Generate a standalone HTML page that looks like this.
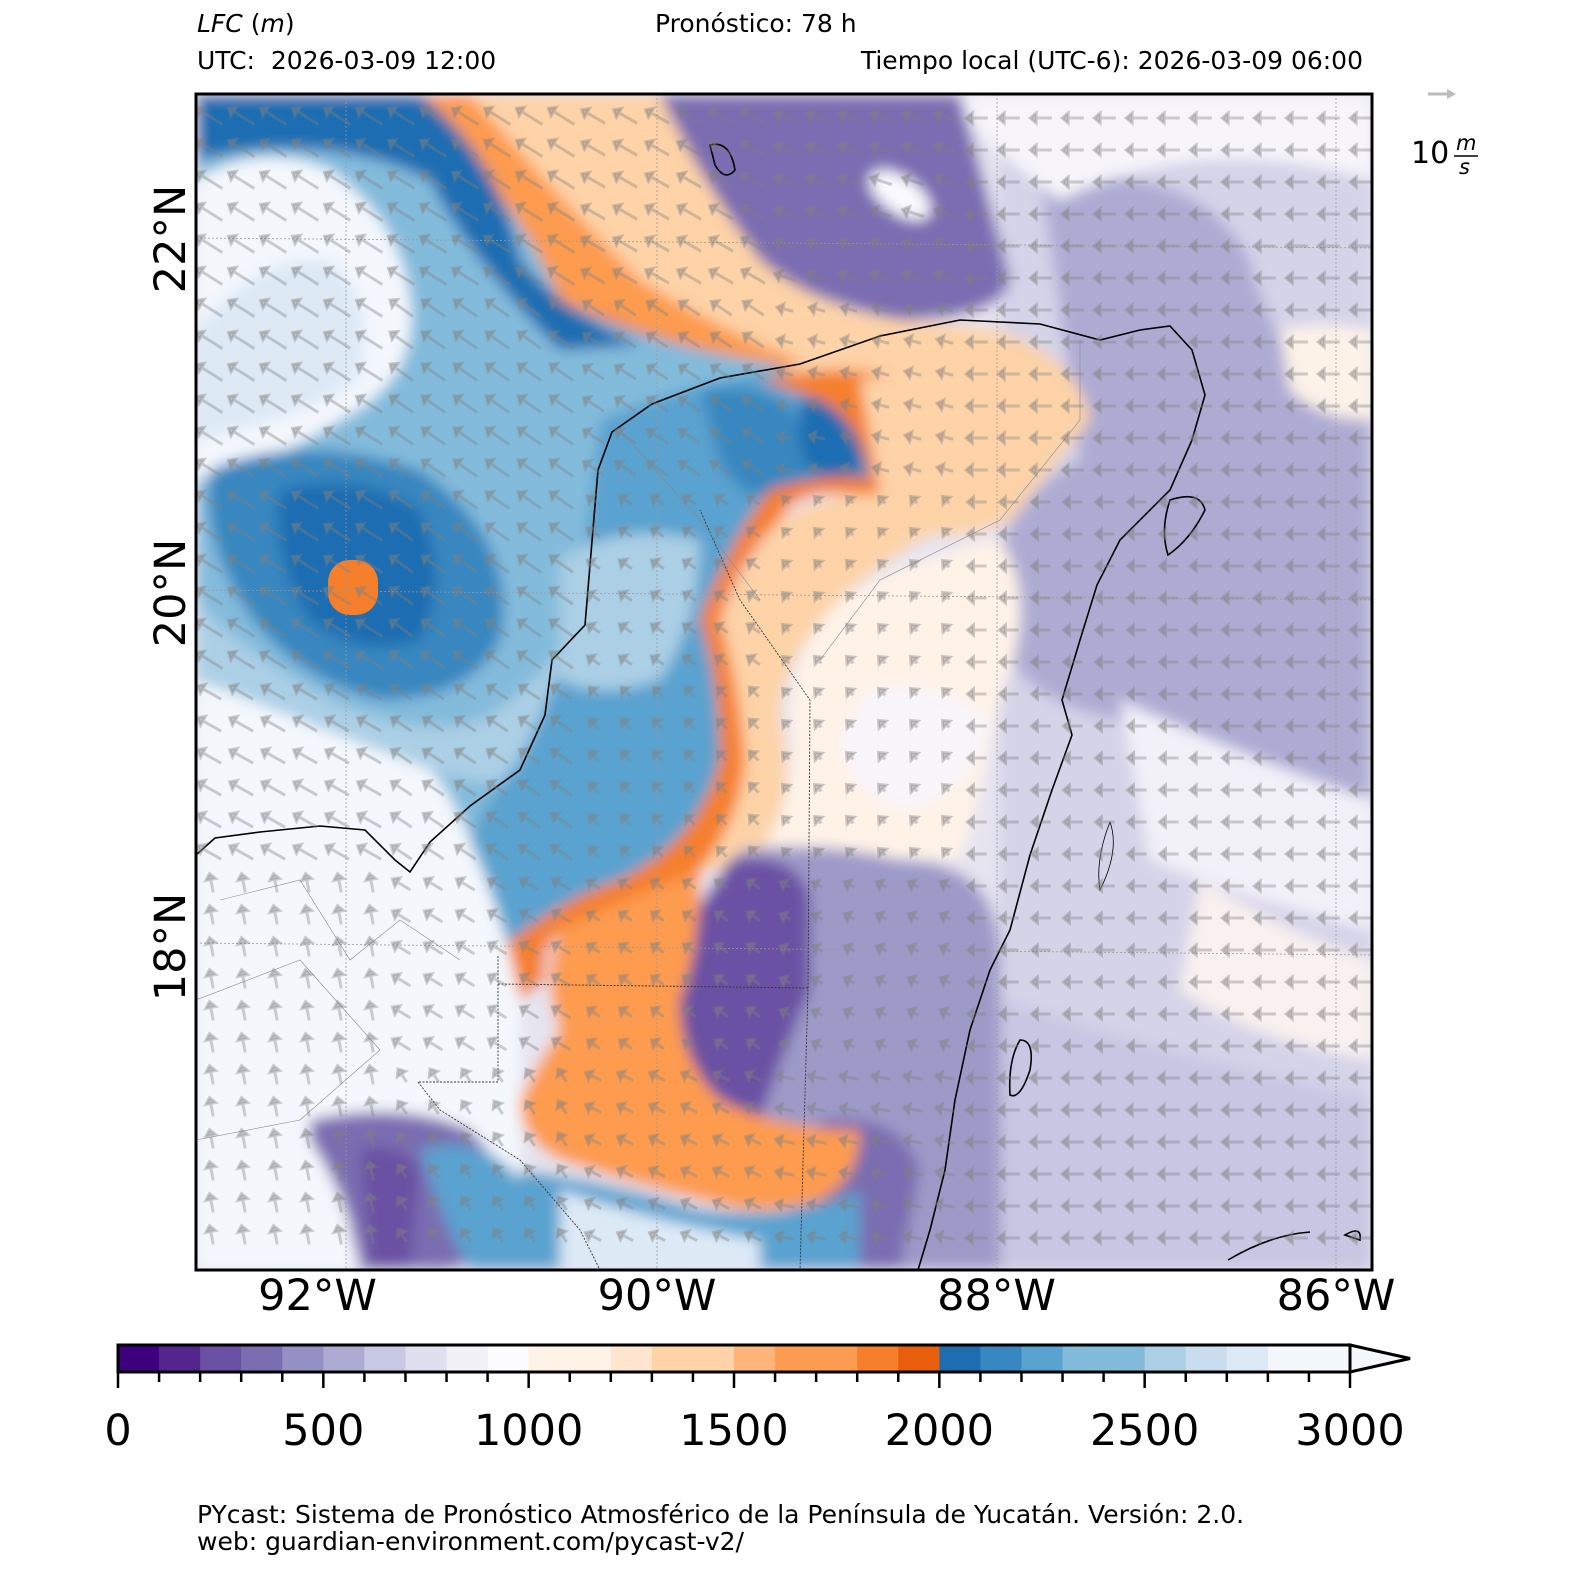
<!DOCTYPE html>
<html><head><meta charset="utf-8">
<style>
html,body{margin:0;padding:0;background:#fff;}
body{width:1574px;height:1574px;position:relative;font-family:"Liberation Sans","DejaVu Sans",sans-serif;overflow:hidden;}
.t{position:absolute;font-family:"DejaVu Sans","Liberation Sans",sans-serif;color:#000;white-space:nowrap;}
</style></head>
<body>
<div class="t" style="left:197px;top:9px;font-size:25px;font-style:italic">LFC<span style="font-style:normal"> (</span>m<span style="font-style:normal">)</span></div>
<div class="t" style="left:655px;top:9px;font-size:25px">Pronóstico: 78 h</div>
<div class="t" style="left:197px;top:46px;font-size:25px">UTC:&nbsp; 2026-03-09 12:00</div>
<div class="t" style="right:211px;top:46px;font-size:25px">Tiempo local (UTC-6): 2026-03-09 06:00</div>
<div class="t" style="left:197px;top:1500px;font-size:25px">PYcast: Sistema de Pronóstico Atmosférico de la Península de Yucatán. Versión: 2.0.</div>
<div class="t" style="left:197px;top:1527px;font-size:25px">web: guardian-environment.com/pycast-v2/</div>

<svg id="chart" width="1574" height="1574" style="position:absolute;left:0;top:0">
<defs>
<clipPath id="mc"><rect x="196" y="94" width="1176" height="1176"/></clipPath>
<filter id="bl" x="-20%" y="-20%" width="140%" height="140%"><feGaussianBlur stdDeviation="7"/></filter>
</defs>
<g clip-path="url(#mc)">
<g filter="url(#bl)">
<rect x="150" y="50" width="1300" height="1300" fill="#e6e4f0"/>
<path d="M1000,94 L1372,94 L1372,1270 L1000,1270 Z" fill="#d4d3e8"/>
<path d="M1040,180 Q1200,160 1250,260 Q1280,380 1372,420 L1372,800 Q1200,780 1120,720 Q1000,700 990,600 Q1000,500 1080,460 Q1060,300 1040,180Z" fill="#aeabd3"/>
<path d="M950,94 L1372,94 L1372,180 Q1200,130 1060,200 Q990,150 950,94Z" fill="#f7f5fa"/>
<path d="M1120,700 Q1250,760 1372,800 L1372,930 Q1250,900 1150,860 Z" fill="#f3f1f8"/>
<path d="M1200,880 Q1300,940 1372,960 L1372,1060 Q1250,1040 1180,990 Z" fill="#f9f1ef"/>
<path d="M1000,1000 Q1150,1050 1372,1100 L1372,1270 L960,1270 Z" fill="#c8c6e2"/>
<path d="M1280,330 Q1320,320 1372,330 L1372,420 Q1320,420 1290,390 Z" fill="#fdf2e8"/>
<path d="M650,94 L960,94 Q990,200 1010,280 Q1000,320 900,320 Q800,300 760,260 Q720,200 650,130 Z" fill="#7a6db1"/>
<ellipse cx="900" cy="195" rx="35" ry="18" fill="#fbfaff" transform="rotate(35 900 195)"/>
<path d="M360,94 L660,94 Q700,180 760,260 Q820,310 900,320 L1000,330 Q1080,360 1090,420 L1010,520 Q920,560 880,500 Q800,420 780,370 Q660,340 560,300 Q500,200 360,94Z" fill="#fdd3a7"/>
<path d="M360,94 L470,94 Q560,200 640,280 Q720,330 800,360 L770,380 Q650,350 560,310 Q520,220 420,130 Z" fill="#fd9b50"/>
<path d="M540,300 Q600,310 640,330 Q720,355 780,365 Q680,370 580,340 Z" fill="#e95e0d"/>
<path d="M196,94 L380,94 Q500,160 560,300 Q650,345 780,365 Q760,420 700,470 L640,600 L560,830 L196,830 Z" fill="#83bbdb"/>
<path d="M196,94 L420,94 Q500,160 520,260 Q560,310 640,345 L560,350 Q470,260 430,180 Q330,130 196,160Z" fill="#1f6db1"/>
<path d="M196,180 Q260,140 330,170 Q400,220 410,300 Q420,380 340,420 Q260,470 196,480 Z" fill="#f4f8fd"/>
<path d="M196,330 Q260,250 330,260 Q380,300 360,380 Q300,420 196,440Z" fill="#ddeaf6"/>
<path d="M210,470 Q300,430 420,470 Q520,540 500,640 Q470,700 380,700 Q290,680 240,600 Q200,530 210,470Z" fill="#3787c0"/>
<path d="M280,490 Q360,470 420,510 Q450,580 420,640 Q360,660 310,620 Q270,560 280,490Z" fill="#1f6db1"/>
<path d="M196,640 Q260,680 360,720 Q440,760 460,820 L196,830 Z" fill="#f4f8fd"/>
<path d="M196,600 Q240,650 330,700 Q420,740 480,720 Q520,700 560,650 L560,780 Q480,790 430,770 Q300,720 196,680 Z" fill="#abcfe5"/>
<path d="M600,420 Q700,380 780,370 Q840,380 870,430 L870,490 Q800,470 780,520 Q740,560 720,620 Q740,700 740,760 Q720,820 700,860 Q650,900 600,900 Q540,930 520,1000 L520,1080 L480,1080 Q460,1000 450,900 Q460,830 520,760 Q560,680 580,600 Q590,500 600,420Z" fill="#5aa2cf"/>
<path d="M560,560 Q620,520 700,540 Q700,620 660,680 Q600,700 560,680Z" fill="#abcfe5"/>
<path d="M700,390 Q770,380 800,420 Q850,400 870,450 L870,490 Q810,480 780,500 Q740,500 720,460Z" fill="#3787c0"/>
<path d="M800,400 Q840,390 860,420 Q870,470 840,485 Q800,470 800,440Z" fill="#1f6db1"/>
<path d="M760,380 Q850,360 900,380 L880,500 Q800,480 780,520 Q740,560 720,620 Q750,680 750,760 Q740,830 700,870 Q650,900 610,910 L560,930 Q540,950 545,980 L520,1000 L500,950 Q560,900 620,880 Q700,840 720,760 Q720,680 700,620 Q730,540 770,490 Q840,470 870,480 Q860,420 820,400Z" fill="#f57f2b"/>
<path d="M860,380 Q950,370 1000,340 Q1080,370 1080,430 Q1040,480 960,520 Q880,560 840,600 Q780,660 780,720 Q800,800 760,850 Q700,880 700,870 Q740,820 745,760 Q740,690 720,620 Q745,560 780,520 Q830,490 880,495 Z" fill="#fdd3a7"/>
<path d="M840,600 Q900,560 1000,540 Q1040,600 1000,700 Q980,800 960,860 Q900,860 840,850 Q780,860 760,850 Q800,800 790,720 Q790,650 840,600Z" fill="#fff3e8"/>
<path d="M870,690 Q940,680 990,720 Q970,800 900,810 Q850,790 840,740Z" fill="#f8f5fb"/>
<path d="M740,850 Q820,840 900,860 Q1000,860 1000,960 L1000,1270 L800,1270 L780,1150 Q700,1100 690,1000 Q700,900 740,850Z" fill="#9e9ac8"/>
<path d="M730,860 Q800,850 810,900 L810,990 Q780,1060 760,1120 Q700,1100 680,1040 Q660,980 690,920 Z" fill="#6a51a3"/>
<path d="M820,1120 Q900,1110 920,1170 L900,1270 L820,1270 Z" fill="#7a6db1"/>
<path d="M560,930 Q620,900 700,870 Q700,950 680,1000 Q680,1060 720,1100 Q780,1130 860,1130 Q860,1180 820,1200 Q760,1220 700,1200 Q620,1180 560,1160 Q520,1140 520,1100 Q540,1060 560,1030 Q540,980 560,930Z" fill="#fd9b50"/>
<path d="M520,1170 Q600,1180 700,1210 Q800,1220 860,1190 L860,1270 L520,1270Z" fill="#5aa2cf"/>
<path d="M560,1190 Q650,1220 760,1240 L760,1270 L560,1270Z" fill="#ddeaf6"/>
<path d="M196,830 L460,820 Q500,900 520,1000 L520,1180 L196,1270 Z" fill="#f4f8fd"/>
<path d="M196,1100 L196,1270 L360,1270 L300,1110Z" fill="#f4f8fd"/>
<path d="M310,1120 Q400,1100 470,1130 Q520,1180 500,1240 Q470,1270 440,1270 L360,1270 Q350,1200 310,1140Z" fill="#7a6db1"/>
<path d="M360,1150 Q400,1140 420,1170 L410,1270 L370,1270 Z" fill="#6a51a3"/>
<path d="M420,1150 Q480,1130 520,1180 L520,1270 L470,1270 Q440,1220 420,1150Z" fill="#5aa2cf"/>
</g>
<rect x="328" y="560" width="50" height="55" rx="22" fill="#f57f2b"/>
<g stroke="#999" stroke-width="0.8" stroke-dasharray="2,2" fill="none">
<line x1="346" y1="94" x2="346" y2="1270"/><line x1="657" y1="94" x2="657" y2="1270"/><line x1="997" y1="94" x2="997" y2="1270"/><line x1="1336" y1="94" x2="1336" y2="1270"/>
<line x1="196" y1="238" x2="1372" y2="248"/><line x1="196" y1="590" x2="1372" y2="600"/><line x1="196" y1="943" x2="1372" y2="955"/>
</g>
<g stroke="#333" stroke-width="0.9" fill="none" stroke-dasharray="2,1.5">
<path d="M498,956 L498,1082 L418,1082"/><path d="M498,984 L808,988 L800,1270"/><path d="M808,988 L810,700 L740,600 L700,510"/><path d="M418,1082 L440,1110 L520,1160 L580,1230 L600,1270"/>
</g>
<g stroke="#888" stroke-width="0.6" fill="none">
<path d="M620,430 L700,520 L760,600"/><path d="M1080,340 L1080,420 L1000,520 L880,580 L820,660"/><path d="M220,900 L300,880 L350,960 L400,920 L460,960"/><path d="M196,1000 L300,960 L380,1050 L300,1120 L196,1140"/>
</g>
<g stroke="#000" stroke-width="1.6" fill="none">
<path d="M196,855 L215,838 L260,832 L320,826 L365,830 L395,860 L410,872 L430,842 L470,806 L520,770 L545,715 L552,660 L585,625 L590,565 L598,470 L612,432 L652,404 L720,378 L800,364 L880,336 L960,320 L1040,324 L1100,340 L1140,330 L1170,326 L1192,350 L1205,395 L1192,440 L1170,490 L1120,540 L1097,585 L1080,640 L1062,700 L1072,735 L1052,790 L1030,855 L1010,930 L990,970 L970,1030 L955,1100 L945,1170 L930,1230 L918,1270"/>
<path d="M1170,500 Q1200,490 1205,510 Q1190,540 1168,555 Q1160,530 1170,500Z"/>
<path d="M1020,1040 Q1035,1040 1030,1070 Q1020,1100 1010,1095 Q1008,1060 1020,1040Z"/>
<path d="M710,145 Q730,140 735,170 Q725,182 715,165Z"/>
<path d="M1228,1260 Q1270,1235 1310,1232"/><path d="M1345,1235 Q1362,1225 1360,1240 Z"/>
<path d="M1110,822 Q1120,850 1100,890 Q1095,860 1110,822Z" stroke-width="0.8"/>
</g>
<g id="arrows"></g>
</g>
<rect x="196" y="94" width="1176" height="1176" fill="none" stroke="#000" stroke-width="3"/>
<g>
<line x1="1428" y1="94" x2="1450" y2="94" stroke="#bbb" stroke-width="3"/>
<polygon points="1456,94 1447,89 1447,99" fill="#bbb"/>
<text x="1411" y="163" font-family="DejaVu Sans,Liberation Sans,sans-serif" font-size="30">10</text>
<text x="1456" y="150" font-family="DejaVu Sans,Liberation Sans,sans-serif" font-size="21" font-style="italic">m</text>
<line x1="1454" y1="156" x2="1478" y2="156" stroke="#000" stroke-width="1.5"/>
<text x="1459" y="174" font-family="DejaVu Sans,Liberation Sans,sans-serif" font-size="21" font-style="italic">s</text>
</g>
<g id="axes" font-family="DejaVu Sans,Liberation Sans,sans-serif" font-size="43"></g>
<g id="cbar"></g>
</svg>
<script>
var lonLabels=['92°W','90°W','88°W','86°W'];
var lonValues=[-92,-90,-88,-86];
var latLabels=['22°N','20°N','18°N'];
var latValues=[22,20,18];
var cbTicks=[0,500,1000,1500,2000,2500,3000];
var cbColors=['#3f007d','#54278f','#6a51a3','#7b6eb0','#9590c4','#adabd2','#c8c8e2','#e0dfee','#f1f0f6','#fcfbfd','#fff3e8','#fff3e8','#fee6ce','#fdd3a7','#fdd3a7','#fdb57c','#fd9b50','#fd9b50','#f57f2b','#e95e0d','#1f6db1','#3787c0','#5aa2cf','#83bbdb','#83bbdb','#abcfe5','#c9ddef','#ddeaf6','#f4f8fd','#f4f8fd'];
var windU=[[-8,-8,-7,-6,-6,-6],[-8,-7,-6,-4,-6,-6],[-8,-7,-3,-1,-5,-6],[-7,-6,-2,-1,-5,-6],[-1,-5,-3,-2,-5,-6],[-1,-2,-4,-5,-6,-6]];
var windV=[[5,5,4,2,0,0],[5,5,4,1,0,0],[5,5,2,1,0,0],[4,4,2,1,0,0],[5,3,2,1,0,0],[5,3,2,1,0,0]];
var NS='http://www.w3.org/2000/svg';
function xLon(l){return 657+(l+90)*169.75;}
function yLat(a){return 593-(a-20)*177;}
var cbX0=118,cbX1=1350,cbY=1345,cbH=27;
function xCb(v){return cbX0+(v/3000)*(cbX1-cbX0);}
var ax=document.getElementById('axes');
lonLabels.forEach(function(s,i){var t=document.createElementNS(NS,'text');


var x=xLon(lonValues[i]);t.setAttribute('x',x);t.setAttribute('y',1310);t.setAttribute('text-anchor','middle');t.textContent=s;ax.appendChild(t);});
latLabels.forEach(function(s,i){var t=document.createElementNS(NS,'text');


var y=yLat(latValues[i]);t.setAttribute('transform','translate(185,'+y+') rotate(-90)');t.setAttribute('text-anchor','middle');t.textContent=s;ax.appendChild(t);});
var cb=document.getElementById('cbar');
cbColors.forEach(function(c,i){var r=document.createElementNS(NS,'rect');


var x0=xCb(i*100),x1=xCb((i+1)*100);r.setAttribute('x',x0);r.setAttribute('y',cbY);r.setAttribute('width',x1-x0+0.5);r.setAttribute('height',cbH);r.setAttribute('fill',c);cb.appendChild(r);});
var tri=document.createElementNS(NS,'polygon');


tri.setAttribute('points',cbX1+','+cbY+' 1410,'+(cbY+cbH/2)+' '+cbX1+','+(cbY+cbH));tri.setAttribute('fill','#f4f8fd');tri.setAttribute('stroke','#000');tri.setAttribute('stroke-width','3');cb.appendChild(tri);
var fr=document.createElementNS(NS,'rect');


fr.setAttribute('x',cbX0);fr.setAttribute('y',cbY);fr.setAttribute('width',cbX1-cbX0);fr.setAttribute('height',cbH);fr.setAttribute('fill','none');fr.setAttribute('stroke','#000');fr.setAttribute('stroke-width','3');cb.appendChild(fr);
for(var v=0;v<=3000;v+=100){var l=document.createElementNS(NS,'line');


var x=xCb(v);var big=cbTicks.indexOf(v)>=0;l.setAttribute('x1',x);l.setAttribute('x2',x);l.setAttribute('y1',cbY+cbH);l.setAttribute('y2',cbY+cbH+(big?16:10));l.setAttribute('stroke','#000');l.setAttribute('stroke-width','2.5');cb.appendChild(l);}
cbTicks.forEach(function(v){var t=document.createElementNS(NS,'text');


t.setAttribute('x',xCb(v));t.setAttribute('y',1445);t.setAttribute('text-anchor','middle');t.setAttribute('font-family','DejaVu Sans,Liberation Sans,sans-serif');t.setAttribute('font-size','43');t.textContent=v;cb.appendChild(t);});
var ar=document.getElementById('arrows');
for(var yy=118;yy<1270;yy+=32){for(var xx=212;xx<1372;xx+=32){
var ri=Math.min(5,Math.floor((yy-94)/196)),ci=Math.min(5,Math.floor((xx-196)/196));
var u=windU[ri][ci],w=windV[ri][ci];var m=Math.sqrt(u*u+w*w);if(m<0.1)continue;
var L=m*2.6,dx=u/m,dy=-w/m;var x2=xx+dx*L,y2=yy+dy*L;
var g=document.createElementNS(NS,'path');


var hx=x2+dx*6,hy=y2+dy*6,px=-dy*5,py=dx*5;
g.setAttribute('d','M'+(xx-dx*L/2)+','+(yy-dy*L/2)+' L'+(x2-dx*L/2)+','+(y2-dy*L/2)+' M'+(hx-dx*L/2)+','+(hy-dy*L/2)+' L'+(x2+px-dx*L/2)+','+(y2+py-dy*L/2)+' L'+(x2-px-dx*L/2)+','+(y2-py-dy*L/2)+' Z');
g.setAttribute('stroke','rgba(130,130,130,0.38)');g.setAttribute('stroke-width','3');g.setAttribute('fill','rgba(130,130,130,0.38)');ar.appendChild(g);}}
</script>
</body></html>
